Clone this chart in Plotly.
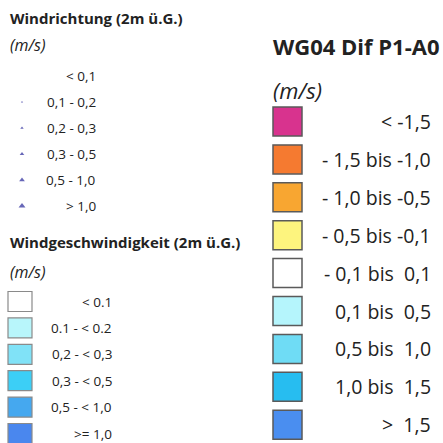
import plotly.graph_objects as go

# ---- data ----
dir_title = "Windrichtung (2m ü.G.)"
dir_unit = "(m/s)"
dir_labels = ["< 0,1", "0,1 - 0,2", "0,2 - 0,3", "0,3 - 0,5", "0,5 - 1,0", "> 1,0"]
dir_sizes = [0, 2, 3, 4, 5, 6]

spd_title = "Windgeschwindigkeit (2m ü.G.)"
spd_unit = "(m/s)"
spd_labels = ["< 0.1", "0.1 - < 0.2", "0,2 - < 0,3", "0,3 - < 0,5", "0,5 - < 1,0", ">= 1,0"]
spd_colors = ["#ffffff", "#b8f6fb", "#80e2f7", "#3ccff6", "#45a8ef", "#4a87ee"]

dif_title = "WG04 Dif P1-A0"
dif_unit = "(m/s)"
dif_labels = ["< -1,5", "- 1,5 bis -1,0", "- 1,0 bis -0,5", "- 0,5 bis -0,1",
              "- 0,1 bis  0,1", "0,1 bis  0,5", "0,5 bis  1,0", "1,0 bis  1,5", ">  1,5"]
dif_colors = ["#d8338e", "#f57a30", "#f8a631", "#fdf47e", "#ffffff",
              "#b5f5fc", "#6fdcf5", "#27bdf0", "#4a8ef0"]

FONT = "Open Sans"
TXT = "#222222"

fig = go.Figure()
shapes = []
ann = []

def text(x, y, s, size, anchor="left", bold=False, italic=False):
    if bold:
        s = "<b>" + s + "</b>"
    if italic:
        s = "<i>" + s + "</i>"
    ann.append(dict(x=x, y=y, text=s, showarrow=False, xanchor=anchor, yanchor="middle",
                    font=dict(family=FONT, size=size, color=TXT)))

# Left column: wind direction
text(8, 18, dir_title, 15, bold=True)
text(8, 45, dir_unit, 16, italic=True)
dir_y0, dir_dy = 76, 26
dir_y = [dir_y0 + i * dir_dy for i in range(len(dir_labels))]
for lab, y in zip(dir_labels, dir_y):
    text(98, y, lab, 13.5, anchor="right")
mk = [(y, s) for y, s in zip(dir_y, dir_sizes) if s > 0]
fig.add_trace(go.Scatter(
    x=[22] * len(mk), y=[m[0] for m in mk], mode="markers",
    marker=dict(symbol="triangle-up", size=[m[1] for m in mk], color="#26269a",
                line=dict(width=0)),
    hoverinfo="skip", showlegend=False))

# Left column: wind speed
text(8, 242, spd_title, 15, bold=True)
text(8, 272, spd_unit, 16, italic=True)
spd_y0, spd_dy = 301.5, 26.4
for i, (lab, col) in enumerate(zip(spd_labels, spd_colors)):
    y = spd_y0 + i * spd_dy
    shapes.append(dict(type="rect", x0=8, x1=32, y0=y - 10, y1=y + 10,
                       fillcolor=col, line=dict(color="#8a8a8a", width=1.2)))
    text(114, y, lab, 13.5, anchor="right")

# Right column: difference
text(271, 46, dif_title, 22, bold=True)
text(271, 90, dif_unit, 22, italic=True)
dif_y0, dif_dy = 121.5, 37.9
for i, (lab, col) in enumerate(zip(dif_labels, dif_colors)):
    y = dif_y0 + i * dif_dy
    shapes.append(dict(type="rect", x0=273, x1=302, y0=y - 14.5, y1=y + 14.5,
                       fillcolor=col, line=dict(color="#5a5a5a", width=1.5)))
    text(433, y, lab, 19.5, anchor="right")

fig.update_layout(
    width=443, height=443, margin=dict(l=0, r=0, t=0, b=0),
    paper_bgcolor="white", plot_bgcolor="white",
    xaxis=dict(range=[0, 443], visible=False, fixedrange=True),
    yaxis=dict(range=[443, 0], visible=False, fixedrange=True),
    shapes=shapes, annotations=ann, showlegend=False,
)
fig.write_html("out.html", config={"displayModeBar": False},
               post_script="document.body.style.margin='0px';document.body.style.overflow='hidden';")
